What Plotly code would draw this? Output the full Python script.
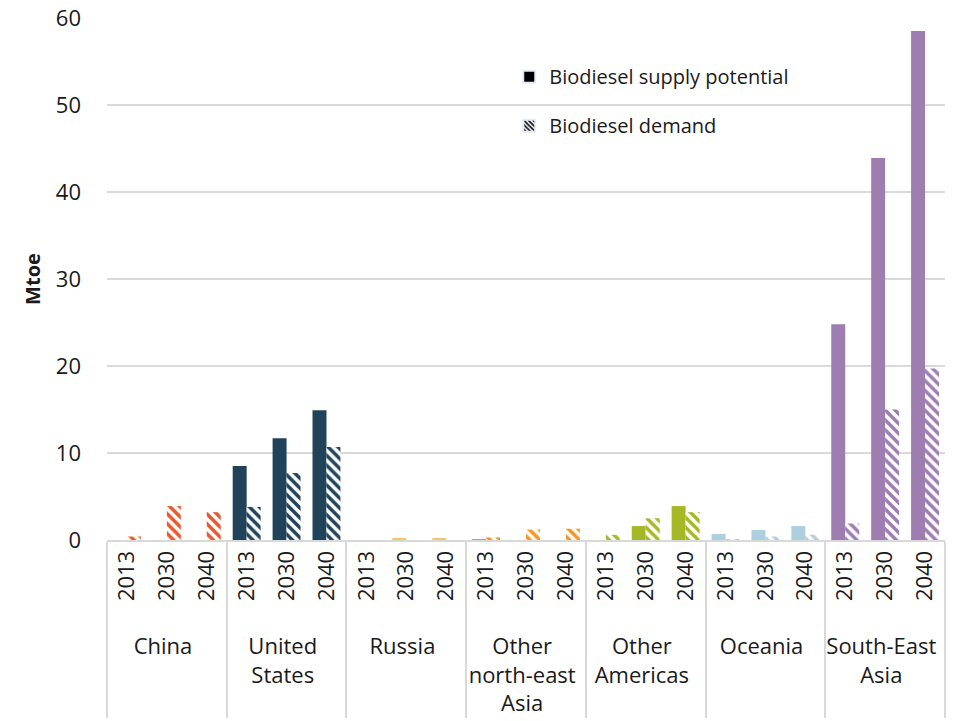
import plotly.graph_objects as go

regions = ["China", "United<br>States", "Russia", "Other<br>north-east<br>Asia",
           "Other<br>Americas", "Oceania", "South-East<br>Asia"]
years = ["2013", "2030", "2040"]
region_colors = ["#E9572B", "#21435A", "#F2C66D", "#F7941D", "#A5B826", "#AECFE0", "#9E7DB0"]

# Mtoe, per region: 2013, 2030, 2040
supply = [
    [0.0, 0.0, 0.0],
    [8.5, 11.7, 14.9],
    [0.0, 0.2, 0.2],
    [0.1, 0.0, 0.0],
    [0.0, 1.6, 3.9],
    [0.7, 1.15, 1.6],
    [24.8, 43.9, 58.5],
]
demand = [
    [0.4, 3.9, 3.2],
    [3.8, 7.7, 10.7],
    [0.0, 0.0, 0.0],
    [0.3, 1.2, 1.3],
    [0.6, 2.5, 3.2],
    [0.1, 0.4, 0.6],
    [1.9, 15.0, 19.7],
]

# leading non-breaking spaces push the region row a little lower
year_labels = ["\u00a0\u00a0" + y for y in years]

x_outer, x_inner, sup_vals, dem_vals, colors = [], [], [], [], []
for i, r in enumerate(regions):
    for j, yr in enumerate(year_labels):
        x_outer.append(r)
        x_inner.append(yr)
        sup_vals.append(supply[i][j])
        dem_vals.append(demand[i][j])
        colors.append(region_colors[i])

hatch = dict(shape="\\", fillmode="overlay", size=7, solidity=0.5, fgopacity=1)

fig = go.Figure()
fig.add_trace(go.Bar(
    x=[x_outer, x_inner], y=sup_vals, name="Biodiesel supply potential",
    marker=dict(color=colors, line=dict(width=0)), showlegend=False,
    offsetgroup="s",
))
fig.add_trace(go.Bar(
    x=[x_outer, x_inner], y=dem_vals, name="Biodiesel demand",
    marker=dict(color="white", line=dict(width=0), pattern=dict(hatch, fgcolor=colors)),
    showlegend=False, offsetgroup="d",
))

# legend entries in black
fig.add_trace(go.Bar(
    x=[[regions[0]], [year_labels[0]]], y=[None], name="Biodiesel supply potential",
    marker=dict(color="black"), legendgroup="a", offsetgroup="s",
))
fig.add_trace(go.Bar(
    x=[[regions[0]], [year_labels[0]]], y=[None], name="Biodiesel demand",
    marker=dict(color="white", pattern=dict(hatch, fgcolor="black", size=4)),
    legendgroup="b", offsetgroup="d",
))

fig.update_layout(
    width=955, height=721,
    margin=dict(l=107, r=10, t=18, b=181),
    paper_bgcolor="white", plot_bgcolor="white",
    font=dict(family="Open Sans, Noto Sans, sans-serif", size=22, color="#1a1a1a"),
    barmode="group", bargap=0.3, bargroupgap=0,
    legend=dict(x=0.48, y=0.925, xanchor="left", yanchor="top",
                bgcolor="rgba(0,0,0,0)", font=dict(size=20),
                tracegroupgap=20, itemsizing="constant"),
)
fig.update_yaxes(
    range=[0, 60], dtick=10, showgrid=True, gridcolor="#d9d9d9", gridwidth=2,
    zeroline=False, showline=False, ticks="", automargin=False, ticklabelstandoff=25,
    ticklabeloverflow="allow",
    title=dict(text="<b>Mtoe</b>", font=dict(size=20), standoff=9),
)
fig.update_xaxes(
    type="multicategory", tickangle=-90, showline=True, linecolor="#d9d9d9", linewidth=2,
    showdividers=True, dividercolor="#d9d9d9", dividerwidth=2, ticks="", automargin=False,
)

# drop the default 8px page margin so the figure fills the window exactly
fig.write_html("out.html", config={"displayModeBar": False},
               post_script="document.body.style.margin = '0';")
